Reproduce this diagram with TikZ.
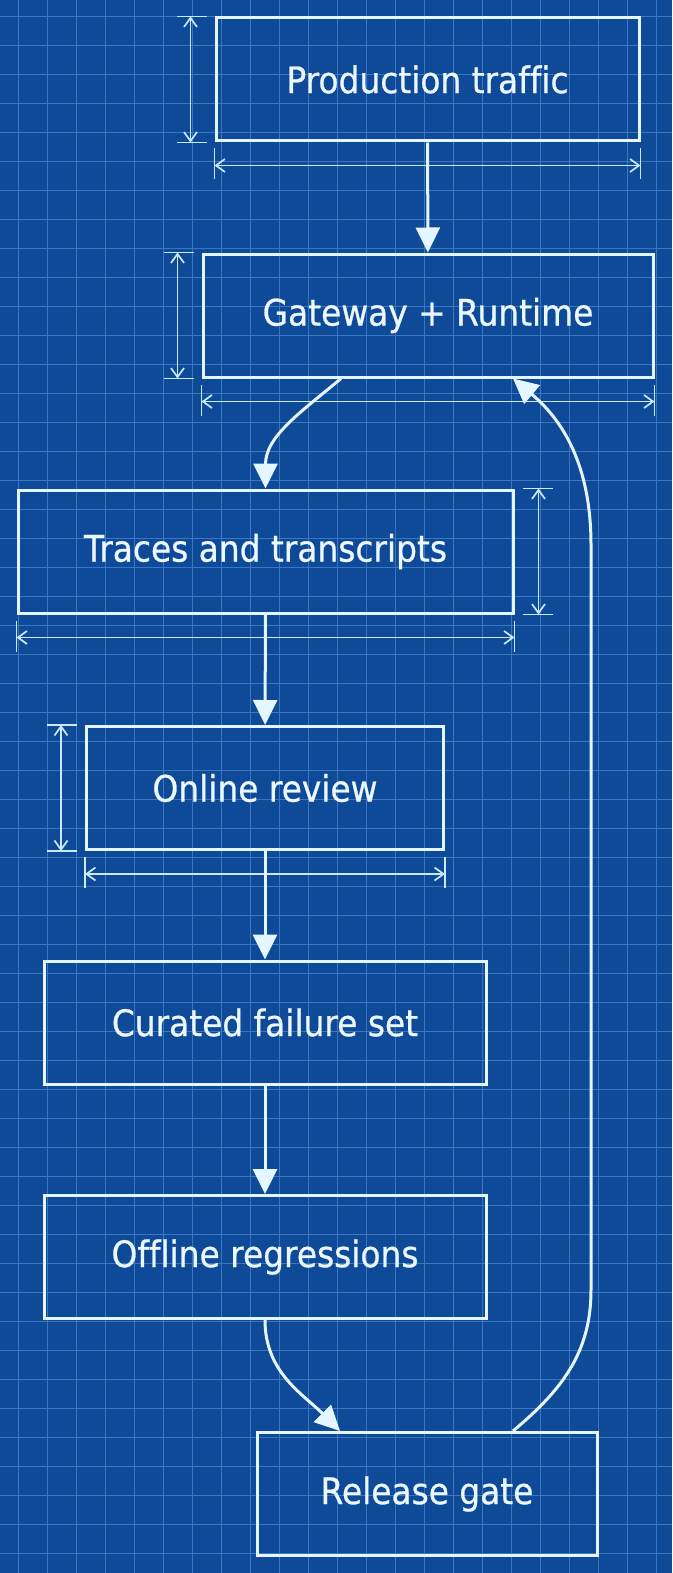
\documentclass[tikz,border=0pt]{standalone}
\usepackage{fontspec}
\setmainfont[FakeStretch=0.9, FakeBold=0.7, Ligatures=NoCommon]{DejaVu Sans}
\usetikzlibrary{arrows.meta, calc}
\definecolor{bp_blue}{RGB}{14,74,152}
\definecolor{bp_grid}{RGB}{58,118,194}
\definecolor{bp_line}{RGB}{228,246,255}
\definecolor{bp_dim}{RGB}{200,234,252}
\definecolor{bp_text}{RGB}{236,248,255}
\tikzset{
    stage/.style={
        draw=bp_line, line width=3pt, text=bp_text,
        minimum height=123pt, inner sep=0pt,
        font=\fontsize{36.5}{42}\selectfont
    },
    flow/.style={
        draw=bp_line, line width=3pt,
        -{Triangle[length=25pt, width=24pt]}
    },
    dimline/.style={draw=bp_dim, line width=1.7pt},
    dimtips/.style={
        {Straight Barb[length=9pt, width=13pt]}-{Straight Barb[length=9pt, width=13pt]}
    },
    gridline/.style={draw=bp_grid, line width=0.9pt},
}
% width dimension under a box
\newcommand{\widthdim}[1]{%
    \draw[dimline] ([yshift=-6pt]#1.south west) -- ([yshift=-37pt]#1.south west);
    \draw[dimline] ([yshift=-6pt]#1.south east) -- ([yshift=-37pt]#1.south east);
    \draw[dimline, dimtips] ([yshift=-23pt]#1.south west) -- ([yshift=-23pt]#1.south east);
}
% height dimension beside a box: node, side, direction
\newcommand{\heightdim}[3]{%
    \draw[dimline] ([xshift=#3*8pt]#1.north #2) -- ([xshift=#3*38pt]#1.north #2);
    \draw[dimline] ([xshift=#3*8pt]#1.south #2) -- ([xshift=#3*38pt]#1.south #2);
    \draw[dimline, dimtips] ([xshift=#3*24pt]#1.north #2) -- ([xshift=#3*24pt]#1.south #2);
}

\begin{document}
\begin{tikzpicture}[x=1pt, y=-1pt]
    % background sheet and grid
    \fill[bp_blue] (0,0) rectangle (672,1573);
    \useasboundingbox (0,0) rectangle (672,1573);
    \foreach \gx in {18,47,...,672} {
        \draw[gridline] (\gx,0) -- (\gx,1573);
    }
    \foreach \gy in {16,45,...,1573} {
        \draw[gridline] (0,\gy) -- (672,\gy);
    }

    % stages
    \node[stage, minimum width=423pt] (prod) at (427.5,79.5) {Production traffic};
    \node[stage, minimum width=450pt] (gate) at (428,315.5) {Gateway + Runtime};
    \node[stage, minimum width=495pt] (traces) at (265.5,551.5) {Traces and transcripts};
    \node[stage, minimum width=357pt] (online) at (265,788) {Online review};
    \node[stage, minimum width=442pt] (curated) at (265,1022.5) {Curated failure set};
    \node[stage, minimum width=442pt] (offline) at (265,1257) {Offline regressions};
    \node[stage, minimum width=340pt] (release) at (427,1494) {Release gate};

    % dimensions
    \heightdim{prod}{west}{-1}
    \widthdim{prod}
    \heightdim{gate}{west}{-1}
    \widthdim{gate}
    \heightdim{traces}{east}{1}
    \widthdim{traces}
    \heightdim{online}{west}{-1}
    \widthdim{online}

    % flow
    \draw[flow] (prod) -- (gate);
    \draw[flow] ([xshift=-87pt]gate.south) to[out=-140, in=90] (traces.north);
    \draw[flow] (traces) -- (online);
    \draw[flow] (online) -- (curated);
    \draw[flow] (curated) -- (offline);
    \draw[flow] (offline.south) to[out=-90, in=135] ([xshift=-87pt]release.north);

    % loop back
    \coordinate (loop_low) at (591,1290);
    \coordinate (loop_high) at (591,545);
    \draw[flow] ([xshift=86pt]release.north) to[out=40, in=-90] (loop_low)
        -- (loop_high) to[out=90, in=-40] ([xshift=85pt]gate.south);
\end{tikzpicture}
\end{document}
